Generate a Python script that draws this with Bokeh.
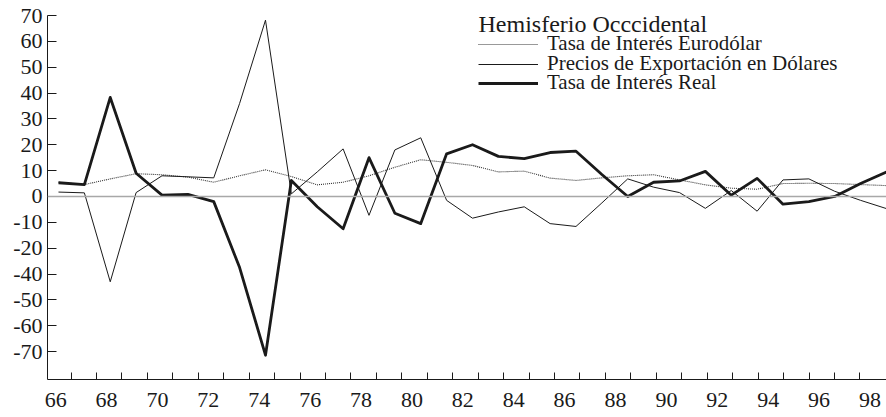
import numpy as np
from bokeh.plotting import figure
from bokeh.models import (FixedTicker, Range1d, Span, Legend, LegendItem, Label)
from bokeh.embed import file_html
from bokeh.resources import INLINE

# ---- data (values as labelled on the chart's y axis) ----
years = list(range(66, 99))
eurodolar = [5.5, 4.6, 6.8, 8.8, 8.4, 7.5, 5.5, 8.0, 10.3, 7.7, 4.5, 5.5, 8.0,
             11.3, 14.2, 13.2, 12.0, 9.5, 9.8, 7.1, 6.2, 7.2, 8.0, 8.4, 6.4,
             4.5, 3.2, 2.8, 5.0, 5.1, 5.0, 4.6, 4.2]
precios = [1.7, 1.4, -43.0, 1.5, 8.0, 7.6, 7.2, 36.0, 68.2, 1.0, 9.5, 18.4,
           -7.3, 18.0, 22.7, -1.5, -8.4, -6.0, -4.0, -10.5, -11.6, -2.5, 6.8,
           3.6, 1.5, -4.6, 2.3, -5.7, 6.4, 6.8, 2.0, -1.5, -4.7]
real = [5.3, 4.6, 38.3, 9.0, 0.5, 0.8, -2.0, -35.0, -71.4, 6.2, -4.0, -12.5,
        15.0, -6.5, -10.5, 16.5, 20.0, 15.5, 14.6, 17.0, 17.5, 8.5, 0.0, 5.5,
        6.0, 9.7, 0.5, 7.0, -3.0, -2.0, 0.0, 5.0, 9.5]

y_tick_labels = [70, 60, 50, 40, 30, 20, 10, 0, -10, -20, -40, -50, -60, -70]
x_tick_labels = list(range(66, 99, 2))

legend_title = "Hemisferio Occcidental"
series_names = ["Tasa de Interés Eurodólar",
                "Precios de Exportación en Dólares",
                "Tasa de Interés Real"]


# The chart's y axis is evenly spaced between its labels (no "-30" label),
# so values are placed by interpolating between labelled tick positions.
def to_axis(v):
    labs = np.array(y_tick_labels[::-1], dtype=float)
    pos = 70.0 - 10.0 * np.arange(len(y_tick_labels))[::-1]
    v = np.asarray(v, dtype=float)
    out = np.interp(v, labs, pos)
    out = np.where(v < labs[0], pos[0] + (v - labs[0]), out)
    return out


# The printed year axis is drawn slightly narrower than the data spacing.
AXIS_STEP = 0.9835     # axis years per data year
TICK_START = 65.5      # first year boundary
LABEL_SHIFT = 0.39     # labels sit a little right of their boundary tick


def axis_pos(year, shift=0.0):
    return float(TICK_START + (year - years[0]) * AXIS_STEP + shift)


FONT = "Liberation Serif"
INK = "#1a1a1a"

p = figure(width=886, height=417, output_backend="svg", toolbar_location=None,
           x_range=Range1d(65.575, 98.0), y_range=Range1d(-70.8, 70.0),
           min_border_left=47, min_border_right=0, min_border_top=15,
           min_border_bottom=38, outline_line_color=None,
           background_fill_color="white", border_fill_color="white")
p.xgrid.visible = False
p.ygrid.visible = False

# zero line
p.add_layout(Span(location=0, dimension="width", line_color="#a8a8a8",
                  line_width=1.6))

r1 = p.line(years, to_axis(eurodolar), line_color="#333333", line_width=1.1,
            line_dash="1 1")
r2 = p.line(years, to_axis(precios), line_color=INK, line_width=1.0)
r3 = p.line(years, to_axis(real), line_color=INK, line_width=2.8,
            line_join="round")

# x axis
label_pos = [axis_pos(y, LABEL_SHIFT) for y in x_tick_labels]
xa = p.xaxis[0]
xa.ticker = FixedTicker(ticks=label_pos,
                        minor_ticks=[axis_pos(y) for y in years])
xa.major_label_overrides = {t: str(y) for t, y in zip(label_pos, x_tick_labels)}
xa.major_tick_in = 0
xa.major_tick_out = 0
xa.minor_tick_in = 7
xa.minor_tick_out = 0
xa.minor_tick_line_color = INK
xa.axis_line_color = INK
xa.major_label_text_font = FONT
xa.major_label_text_font_size = "22px"
xa.major_label_text_color = INK
xa.major_label_standoff = 13

# y axis
ya = p.yaxis[0]
ya.ticker = FixedTicker(ticks=list(to_axis(y_tick_labels)), minor_ticks=[])
ya.major_label_overrides = {float(t): str(l) for t, l in
                            zip(to_axis(y_tick_labels), y_tick_labels)}
ya.major_tick_in = 9
ya.major_tick_out = 0
ya.minor_tick_in = 0
ya.minor_tick_out = 0
ya.major_tick_line_color = INK
ya.axis_line_color = INK
ya.major_label_text_font = FONT
ya.major_label_text_font_size = "22px"
ya.major_label_text_color = INK
ya.major_label_standoff = 5

# legend: a title plus one row per series, stacked tightly
p.add_layout(Label(x=431, y=356, x_units="screen", y_units="screen",
                   text=legend_title, text_font=FONT, text_font_size="24px",
                   text_color=INK, text_baseline="middle", text_align="left"))

row_offsets = [323, 303, 284]
for name, rend, off in zip(series_names, [r1, r2, r3], row_offsets):
    p.add_layout(Legend(items=[LegendItem(label=name, renderers=[rend])],
                        location=(431, off),
                        label_text_font=FONT, label_text_font_size="21px",
                        label_text_color=INK, glyph_width=60, glyph_height=18,
                        label_height=18, spacing=0, label_standoff=9,
                        padding=0, margin=0, border_line_alpha=0,
                        background_fill_alpha=0))

open("out.html", "w").write(file_html(p, INLINE))
